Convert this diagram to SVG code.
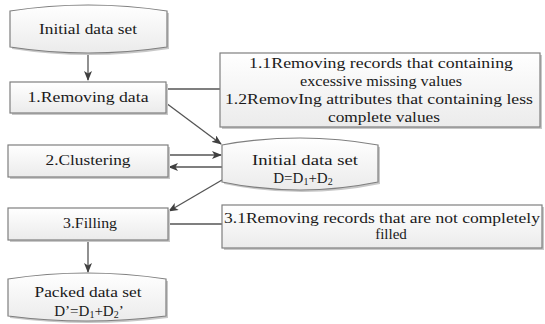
<svg xmlns="http://www.w3.org/2000/svg" width="545" height="324" viewBox="0 0 545 324">
<defs>
<linearGradient id="g" x1="0" y1="0" x2="0" y2="1">
<stop offset="0" stop-color="#ffffff"/>
<stop offset="1" stop-color="#ebebeb"/>
</linearGradient>
<marker id="ah" markerWidth="10" markerHeight="8" refX="9" refY="4" orient="auto" markerUnits="userSpaceOnUse">
<path d="M0,0 L10,4 L0,8 L2.5,4 Z" fill="#404040"/>
</marker>
</defs>
<style>
.box{fill:url(#g);stroke:#7f7f7f;stroke-width:1.2}
.sh{fill:#c8c8c8}
.t{font-family:"Liberation Serif","DejaVu Serif","Times New Roman",serif;font-size:15px;fill:#1a1a1a;text-anchor:middle}
.c{stroke:#555555;stroke-width:1.3;fill:none}
.a{marker-end:url(#ah)}
</style>
<rect width="545" height="324" fill="#ffffff"/>
<g id="connectors">
<line class="c a" x1="88" y1="53" x2="88" y2="80"/>
<line class="c" x1="166" y1="89" x2="220" y2="89"/>
<line class="c a" x1="166" y1="103" x2="221" y2="144"/>
<line class="c a" x1="168" y1="155" x2="221" y2="155"/>
<line class="c a" x1="222" y1="167" x2="169" y2="167"/>
<line class="c a" x1="222" y1="180" x2="169" y2="211"/>
<line class="c" x1="168" y1="224" x2="222" y2="224"/>
<line class="c a" x1="88" y1="240" x2="88" y2="272"/>
</g>
<g id="n_initial">
<path class="sh" d="M12,13 Q89,1 169,13 L169,49 Q89,61 12,49 Z"/>
<path class="box" d="M10,11 Q88,-1 167,11 L167,47 Q88,59 10,47 Z"/>
<text class="t" x="88" y="34" textLength="98" lengthAdjust="spacingAndGlyphs">Initial data set</text>
</g>
<g id="n_remove">
<rect class="sh" x="12" y="84" width="156" height="31"/>
<rect class="box" x="10" y="82" width="156" height="31"/>
<text class="t" x="88" y="102" textLength="121" lengthAdjust="spacingAndGlyphs">1.Removing data</text>
</g>
<g id="n_remove_detail">
<rect class="sh" x="222" y="55" width="320" height="74"/>
<rect class="box" x="220" y="53" width="320" height="74"/>
<text class="t" x="381" y="68" textLength="264" lengthAdjust="spacingAndGlyphs">1.1Removing records that containing</text>
<text class="t" x="381" y="86" textLength="162" lengthAdjust="spacingAndGlyphs">excessive missing values</text>
<text class="t" x="379" y="104" textLength="308" lengthAdjust="spacingAndGlyphs">1.2RemovIng attributes that containing less</text>
<text class="t" x="384" y="122" textLength="112" lengthAdjust="spacingAndGlyphs">complete values</text>
</g>
<g id="n_cluster">
<rect class="sh" x="10" y="147" width="160" height="32"/>
<rect class="box" x="8" y="145" width="160" height="32"/>
<text class="t" x="88" y="165" textLength="85" lengthAdjust="spacingAndGlyphs">2.Clustering</text>
</g>
<g id="n_dataset">
<path class="sh" d="M224,147 Q302,133 380,147 L380,184 Q302,200 224,184 Z"/>
<path class="box" d="M222,145 Q300,131 378,145 L378,182 Q300,198 222,182 Z"/>
<text class="t" x="305" y="165" textLength="106" lengthAdjust="spacingAndGlyphs">Initial data set</text>
<text class="t" x="303" y="183">D=D<tspan font-size="10" dy="2">1</tspan><tspan dy="-2">+D</tspan><tspan font-size="10" dy="2">2</tspan></text>
</g>
<g id="n_fill">
<rect class="sh" x="10" y="210" width="160" height="32"/>
<rect class="box" x="8" y="208" width="160" height="32"/>
<text class="t" x="90" y="228" textLength="54" lengthAdjust="spacingAndGlyphs">3.Filling</text>
</g>
<g id="n_fill_detail">
<rect class="sh" x="224" y="207" width="320" height="43"/>
<rect class="box" x="222" y="205" width="320" height="43"/>
<text class="t" x="382" y="223" textLength="316" lengthAdjust="spacingAndGlyphs">3.1Removing records that are not completely</text>
<text class="t" x="391" y="239">filled</text>
</g>
<g id="n_packed">
<path class="sh" d="M10,281 Q88,269 168,281 L168,318 Q88,328 10,318 Z"/>
<path class="box" d="M8,279 Q86,267 166,279 L166,316 Q86,326 8,316 Z"/>
<text class="t" x="88" y="297" textLength="107" lengthAdjust="spacingAndGlyphs">Packed data set</text>
<text class="t" x="89" y="316">D’=D<tspan font-size="10" dy="2">1</tspan><tspan dy="-2">+D</tspan><tspan font-size="10" dy="2">2</tspan><tspan dy="-2">’</tspan></text>
</g>
</svg>
